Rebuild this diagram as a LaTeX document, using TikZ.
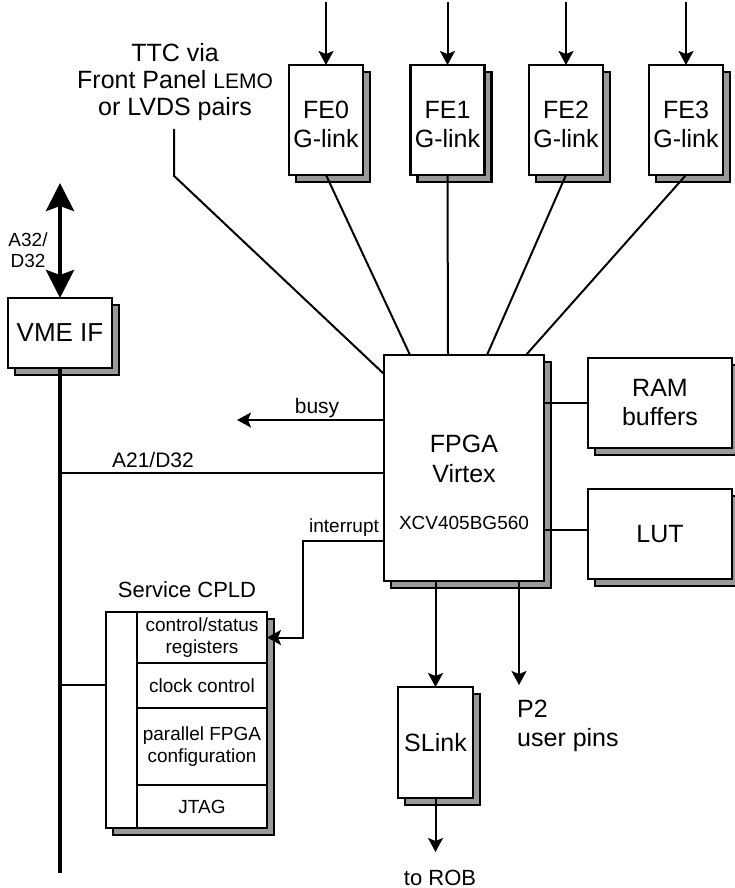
\documentclass[tikz,border=0pt]{standalone}
\usepackage{fontspec}
\setmainfont{Liberation Sans}
\usetikzlibrary{arrows.meta,shadows,calc}
\newcommand\fsz[2]{\fontsize{#1}{#2}\selectfont}
\begin{document}
\begin{tikzpicture}[x=1pt,y=-1pt,
 box/.style={draw, line width=2.4pt, fill=white, inner sep=0pt, outer sep=0pt, align=center, font=\fsz{25}{29}},
 shbox/.style={box, copy shadow={shadow xshift=7pt, shadow yshift=-7pt, fill=black!40, draw=black, line width=2.4pt}},
 ln/.style={line width=2pt},
 arr/.style={ln, -{Stealth[length=14pt,width=15pt,inset=3pt]}},
 bus/.style={line width=4.5pt},
 lbl/.style={inner sep=0pt, font=\fsz{25}{29}},
 mid/.style={inner sep=0pt, font=\fsz{21}{23}},
 small/.style={inner sep=0pt, font=\fsz{19}{21}},
 row/.style={draw, line width=2.4pt, fill=white, minimum width=130pt, inner sep=0pt, outer sep=0pt, align=center, font=\fsz{19}{22}}
]
\useasboundingbox (0,0) rectangle (734,888);

% front-end boxes
\node[shbox, minimum width=74pt, minimum height=110pt] (fe0) at (326,120) {};
\node[shbox, minimum width=74pt, minimum height=110pt] (fe1) at (447.5,120) {};
\node[shbox, minimum width=74pt, minimum height=110pt] (fe2) at (566,120) {};
\node[shbox, minimum width=74pt, minimum height=110pt] (fe3) at (686,120) {};
\foreach \i in {0,...,3} {
  \node[lbl, anchor=base] (fe\i a) at ($(fe\i.center)+(0,-2)$) {FE\i};
  \node[lbl, anchor=base] (fe\i b) at ($(fe\i.center)+(0,27)$) {G-link};
}

\node[shbox, minimum width=160pt, minimum height=226pt] (fpga) at (464,468) {};
\node[lbl, anchor=base] (fpgat) at (464,452) {FPGA};
\node[lbl, anchor=base] (virt) at (464,482) {Virtex};
\node[small, anchor=base] (xcv) at (464,529) {XCV405BG560};

\node[shbox, minimum width=144pt, minimum height=90pt] (ram) at (660,403) {RAM\\buffers};
\node[shbox, minimum width=144pt, minimum height=90pt] (lut) at (660,534) {LUT};
\node[shbox, minimum width=104pt, minimum height=70pt, font=\fsz{26}{29}] (vme) at (60,333) {VME IF};
\node[shbox, minimum width=75pt, minimum height=111pt] (slink) at (435.5,742.5) {SLink};

\node[shbox, minimum width=161pt, minimum height=216pt] (cpld) at (186.5,720) {};
\node[row, minimum height=51pt] (csr) at (202,637.5) {control/status\\registers};
\node[row, minimum height=45pt] (clk) at (202,685.5) {clock control};
\node[row, minimum height=77pt] (par) at (202,746.5) {parallel FPGA\\configuration};
\node[row, minimum height=43pt] (jtag) at (202,806.5) {JTAG};
\node[inner sep=0pt, font=\fsz{22}{24}, anchor=base] (cpldl) at (187,597) {Service CPLD};

% labels
\node[lbl, align=center, font=\fsz{25}{27}] (ttc) at (175,82) {TTC via\\Front Panel {\fsz{21}{27}LEMO}\\or LVDS pairs};
\node[mid, anchor=base] (busyl) at (317,413) {busy};
\node[mid, anchor=base] (a21) at (153,467) {A21/D32};
\node[small, anchor=base] (intl) at (344,532) {interrupt};
\node[small, align=center, font=\fsz{19}{21}] (a32) at (28,250) {A32/\\D32};
\node[mid, font=\fsz{22}{24}, anchor=base] (robl) at (440,885) {to ROB};
\node[lbl, align=left, anchor=north west] (p2) at (517,700) {P2\\user pins};

% connectors
\coordinate (top) at (0,2);
\foreach \i in {0,...,3} \draw[arr] (fe\i.north |- top) -- (fe\i.north);
\draw[ln] (fe0.south) -- ($(fpga.north west)+(26,0)$);
\draw[ln] (fe1.south) -- ($(fpga.north west)+(64,0)$);
\draw[ln] (fe2.south) -- ($(fpga.north west)+(103,0)$);
\draw[ln] (fe3.south) -- ($(fpga.north west)+(142,0)$);

\draw[ln] ($(ttc.south)+(-1,8)$) -- ++(0,47) -- ($(fpga.north west)+(0,19)$);

\coordinate (busyend) at (237,420);
\draw[arr] (busyend -| fpga.west) -- (busyend);

\coordinate (b2) at (60,473);
\draw[ln] (b2) -- (b2 -| fpga.west);

\coordinate (intc) at (303,541);
\draw[arr] (intc -| fpga.west) -- (intc) |- (csr.east);

\coordinate (busend) at (60,873);
\draw[bus] (vme.south) -- (busend);
\coordinate (b3) at (60,685);
\draw[ln] (b3) -- (b3 -| cpld.west);

\coordinate (vtop) at (60,183);
\draw[line width=4.5pt, {Stealth[length=28pt,width=28pt,inset=5pt]}-{Stealth[length=28pt,width=28pt,inset=5pt]}] (vtop) -- (vme.north);

\draw[ln] (fpga.east |- ram.west) -- (ram.west);
\coordinate (lutc) at (0,530);
\draw[ln] (fpga.east |- lutc) -- (lut.west |- lutc);

\draw[arr] (slink.north |- fpga.south) -- (slink.north);
\coordinate (rob) at (435.5,852);
\draw[arr] (slink.south) -- (rob);

\coordinate (p2e) at (519,685);
\draw[arr] (p2e |- fpga.south) -- (p2e);
\end{tikzpicture}
\end{document}
